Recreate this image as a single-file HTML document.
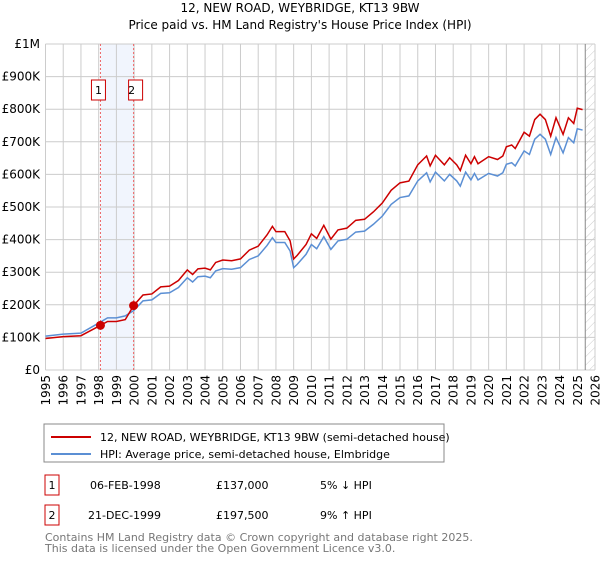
<!DOCTYPE html>
<html><head><meta charset="utf-8"><style>
body{margin:0;background:#fff;font-family:"DejaVu Sans","Liberation Sans",sans-serif;}
svg text{font-family:"DejaVu Sans","Liberation Sans",sans-serif;}
</style></head><body>
<svg id="c" width="600" height="560">
<defs><pattern id="hatch" width="6" height="6" patternUnits="userSpaceOnUse" patternTransform="rotate(45)"><line x1="0" y1="0" x2="0" y2="6" stroke="#ccc" stroke-width="1"/></pattern></defs>
<text x="300" y="12" text-anchor="middle" font-size="12">12, NEW ROAD, WEYBRIDGE, KT13 9BW</text>
<text x="300" y="29" text-anchor="middle" font-size="12">Price paid vs. HM Land Registry's House Price Index (HPI)</text>
<g id="grid"></g><g id="marks"></g>
<rect x="44" y="424" width="400" height="38" fill="#fff" stroke="#888"/>
<line x1="51" y1="437" x2="91" y2="437" stroke="#cc0000" stroke-width="2"/>
<text x="100" y="441" font-size="11">12, NEW ROAD, WEYBRIDGE, KT13 9BW (semi-detached house)</text>
<line x1="51" y1="454" x2="91" y2="454" stroke="#5b8fd4" stroke-width="2"/>
<text x="100" y="458" font-size="11">HPI: Average price, semi-detached house, Elmbridge</text>
<g font-size="11">
<rect x="45" y="475" width="14" height="20" fill="none" stroke="#cc0000"/>
<text x="52" y="489" text-anchor="middle">1</text>
<text x="90" y="489">06-FEB-1998</text><text x="216" y="489">£137,000</text><text x="320" y="489">5% ↓ HPI</text>
<rect x="45" y="505" width="14" height="20" fill="none" stroke="#cc0000"/>
<text x="52" y="519" text-anchor="middle">2</text>
<text x="88" y="519">21-DEC-1999</text><text x="216" y="519">£197,500</text><text x="320" y="519">9% ↑ HPI</text>
</g>
<text x="45" y="541" font-size="11" fill="#777">Contains HM Land Registry data © Crown copyright and database right 2025.</text>
<text x="45" y="552" font-size="11" fill="#777">This data is licensed under the Open Government Licence v3.0.</text>
</svg>
<script>
const yTicks=[0,100,200,300,400,500,600,700,800,900,1000];
const yTickLabels=["£0","£100K","£200K","£300K","£400K","£500K","£600K","£700K","£800K","£900K","£1M"];
const xYears=[1995,1996,1997,1998,1999,2000,2001,2002,2003,2004,2005,2006,2007,2008,2009,2010,2011,2012,2013,2014,2015,2016,2017,2018,2019,2020,2021,2022,2023,2024,2025,2026];
const hpiT=[1995,1996,1997,1998,1998.5,1999,1999.5,1999.97,2000.5,2001,2001.5,2002,2002.5,2003,2003.3,2003.6,2004,2004.3,2004.6,2005,2005.5,2006,2006.5,2007,2007.5,2007.8,2008,2008.5,2008.8,2009,2009.2,2009.7,2010,2010.3,2010.7,2011.1,2011.5,2012,2012.5,2013,2013.5,2014,2014.5,2015,2015.5,2016,2016.3,2016.5,2016.7,2017,2017.5,2017.8,2018.2,2018.4,2018.7,2019,2019.2,2019.4,2020,2020.5,2020.8,2021,2021.3,2021.5,2022,2022.3,2022.6,2022.9,2023.2,2023.5,2023.8,2024.2,2024.5,2024.8,2025,2025.3];
const hpiV=[104,110,113,144,160,160,166,182,212,215,235,237,253,283,270,286,288,283,304,311,309,314,339,350,382,406,391,391,365,314,324,355,385,372,409,370,396,401,423,426,447,472,508,529,534,580,595,605,577,607,580,600,580,564,607,583,603,583,603,595,605,631,636,626,672,661,708,723,708,661,713,666,713,697,740,736];
const saleT=[1998.1,1999.97];
const saleV=[137,197.5];
const X0=45.5,X1=595,Y0=370,Y1=44,XA=1995,XB=2026;
const sx=t=>X0+(t-XA)*(X1-X0)/(XB-XA);
const sy=v=>Y0-v*(Y0-Y1)/1000;
const NS="http://www.w3.org/2000/svg";
function mk(tag,attrs,parent){const e=document.createElementNS(NS,tag);for(const k in attrs)e.setAttribute(k,attrs[k]);parent.appendChild(e);return e;}
const grid=document.getElementById('grid'),marks=document.getElementById('marks');
function hpiAt(t){for(let i=1;i<hpiT.length;i++){if(t<=hpiT[i]){const f=(t-hpiT[i-1])/(hpiT[i]-hpiT[i-1]);return hpiV[i-1]+f*(hpiV[i]-hpiV[i-1]);}}return hpiV[hpiV.length-1];}
let band=mk('rect',{x:sx(saleT[0]),y:Y1,width:sx(saleT[1])-sx(saleT[0]),height:Y0-Y1,fill:'#eef3fc',opacity:0.8},grid);


let hz=mk('rect',{x:sx(2025.45),y:Y1,width:X1-sx(2025.45),height:Y0-Y1,fill:'url(#hatch)'},grid);


yTicks.forEach((v,i)=>{
 let l=mk('line',{x1:X0,x2:X1,y1:sy(v),y2:sy(v),stroke:'#ccc'},grid);
 
 
 let t=mk('text',{x:40,y:sy(v)+4,'text-anchor':'end','font-size':12},grid);t.textContent=yTickLabels[i];
 
 
});
xYears.forEach(yr=>{
 let l=mk('line',{x1:sx(yr),x2:sx(yr),y1:Y1,y2:Y0,stroke:'#ccc'},grid);
 
 
 const tx=sx(yr)+4.5,ty=375;
 let t=mk('text',{x:tx,y:ty,'text-anchor':'end','font-size':12,transform:'rotate(-90 '+tx+' '+ty+')'},grid);t.textContent=yr;
 
 
});
let vl=mk('line',{x1:sx(2025.45),x2:sx(2025.45),y1:Y1,y2:Y0,stroke:'#888'},grid);


saleT.forEach((t,i)=>{
 let l=mk('line',{x1:sx(t),x2:sx(t),y1:Y1,y2:Y0,stroke:'#e66','stroke-dasharray':'2,2'},grid);
 
 
 let r=mk('rect',{x:sx(t)-(i==0?9:5),y:80,width:14,height:20,fill:'#fff',stroke:'#cc0000'},grid);
 
 
 let tx=mk('text',{x:sx(t)-2,y:94,'text-anchor':'middle','font-size':11},grid);tx.textContent=String(i+1);
 
 
});
const hpiPts=hpiT.map((t,i)=>sx(t)+','+sy(hpiV[i])).join(' ');
let hl=mk('polyline',{points:hpiPts,fill:'none',stroke:'#5b8fd4','stroke-width':1.5},marks);


const f1=saleV[0]/hpiAt(saleT[0]),f2=saleV[1]/hpiAt(saleT[1]);
const redPts=hpiT.map((t,i)=>sx(t)+','+sy(hpiV[i]*(t<saleT[1]?f1:f2))).join(' ');
let rl=mk('polyline',{points:redPts,fill:'none',stroke:'#cc0000','stroke-width':1.5},marks);


saleT.forEach((t,i)=>{
 let c=mk('circle',{cx:sx(t),cy:sy(saleV[i]),r:4.5,fill:'#cc0000'},marks);
 
 
});
</script>
</body></html>
